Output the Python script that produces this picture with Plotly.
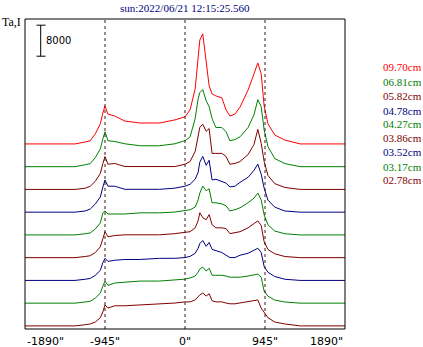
import plotly.graph_objects as go

# Position along the solar disk (arcsec)
X_ARCSEC = [-1890, -1300, -1180, -1120, -1060, -1000, -970, -945, -910, -830, -710, -530,
            -300, -120, 0, 60, 120, 155, 175, 210, 250, 285, 320, 365, 435, 485, 530,
            590, 650, 745, 815, 860, 900, 935, 980, 1060, 1180, 1360, 1890]

# Antenna temperature profiles (Ta) for each wavelength, bottom to top
TA_0278 = [0, 0, 300, 500, 1000, 2100, 3600, 5400, 4600, 5200, 5200, 5400, 5700, 5900, 6200, 6200,
           6700, 7500, 8000, 8500, 7700, 8300, 6500, 6200, 6200, 5900, 5700, 5700, 5900, 6200,
           6500, 6700, 4600, 3600, 2100, 1000, 500, 0, 0]
TA_0317 = [0, 0, 300, 500, 1300, 2600, 4400, 5700, 4600, 5200, 5400, 5700, 5700, 5900, 6200, 6500,
           7000, 8000, 8800, 9300, 8300, 9000, 7200, 7200, 7200, 7000, 6700, 6700, 6700, 7000,
           7200, 7500, 6700, 3100, 1800, 800, 300, 0, 0]
TA_0352 = [0, 0, 300, 500, 1300, 2600, 4600, 5700, 4900, 5200, 5400, 5400, 5700, 5700, 5900, 6200,
           7000, 8300, 9500, 10300, 8800, 9800, 8000, 7700, 7200, 6500, 5900, 5900, 6500, 7000,
           7700, 8300, 7200, 3600, 2100, 1000, 300, 0, 0]
TA_0386 = [0, 0, 300, 500, 1300, 2800, 4900, 6700, 5400, 5700, 5900, 5900, 5900, 6200, 6500, 6700,
           7700, 9500, 11600, 10300, 9800, 11100, 8500, 7700, 7700, 7500, 6200, 6500, 6700, 7700,
           8800, 9500, 8300, 4100, 2100, 1000, 300, 0, 0]
TA_0427 = [0, 0, 300, 500, 1500, 3100, 5700, 6200, 5400, 5400, 5400, 5700, 5700, 5900, 6200, 6500,
           7200, 9000, 10800, 12600, 11400, 11900, 8300, 8300, 8000, 7500, 6200, 6500, 7000, 8300,
           9500, 10800, 9000, 5200, 2600, 1000, 300, 0, 0]
TA_0478 = [0, 0, 300, 800, 2100, 3900, 6500, 8300, 6700, 6700, 5900, 5900, 5900, 6200, 6700, 7200,
           8500, 10300, 12900, 14400, 12100, 13400, 8300, 8500, 8000, 7500, 6500, 6700, 7700, 9000,
           10800, 12400, 9800, 6200, 3100, 1300, 300, 0, 0]
TA_0582 = [0, 0, 300, 800, 2100, 4100, 6700, 8500, 6500, 6700, 5900, 5900, 5900, 5900, 6500, 7200,
           9800, 14200, 16000, 16800, 15000, 15700, 9300, 9300, 9300, 8500, 6500, 6700, 7200, 9000,
           11600, 15500, 11900, 7200, 3600, 1500, 500, 0, 0]
TA_0681 = [0, 0, 500, 800, 2300, 4600, 7200, 9000, 6700, 6500, 5900, 5400, 5400, 5900, 6700, 7700,
           12400, 17500, 19100, 19900, 17000, 15500, 12400, 10100, 10100, 9000, 6700, 7000, 7700,
           10100, 13400, 17300, 15500, 9500, 5200, 2100, 800, 0, 0]
TA_0970 = [0, 0, 500, 800, 2600, 5200, 8000, 9800, 7700, 7200, 5900, 5400, 5400, 6200, 7000, 8800,
           14200, 22700, 26800, 28400, 21900, 15000, 12900, 12400, 11900, 8800, 7200, 7700, 9500,
           13900, 18100, 20900, 18100, 9800, 5200, 2300, 1000, 0, 0]

SERIES = [TA_0278, TA_0317, TA_0352, TA_0386, TA_0427, TA_0478, TA_0582, TA_0681, TA_0970]
LABELS = ["02.78cm", "03.17cm", "03.52cm", "03.86cm", "04.27cm", "04.78cm", "05.82cm", "06.81cm", "09.70cm"]
COLORS = ["#800000", "#008000", "#000080", "#800000", "#008000", "#000080", "#800000", "#008000", "#ff0000"]

OFFSET_BASE = 800
OFFSET_STEP = 5870
Y_RANGE = [0, 80000]
X_RANGE = [-1890, 1890]
LIMB_LINES = [-945, 0, 945]
TICK_VALUES = [-1890, -945, 0, 945, 1890]
TICK_TEXT = ['-1890"', '-945"', '0"', '945"', '1890"']
SCALE_VALUE = 8000
SCALE_TOP = 78400
TITLE = "sun:2022/06/21 12:15:25.560"

fig = go.Figure()
for i, (vals, lab, col) in enumerate(zip(SERIES, LABELS, COLORS)):
    off = OFFSET_BASE + i * OFFSET_STEP
    fig.add_trace(go.Scatter(x=X_ARCSEC, y=[v + off for v in vals], mode="lines",
                             line=dict(color=col, width=1), name=lab, showlegend=False,
                             hoverinfo="skip"))

shapes = []
for lx in LIMB_LINES:
    shapes.append(dict(type="line", xref="x", yref="paper", x0=lx, x1=lx, y0=0, y1=1,
                       line=dict(color="#401818", width=1, dash="3px,3px"), layer="above"))
# frame
shapes.append(dict(type="rect", xref="paper", yref="paper", x0=0, x1=1, y0=0, y1=1,
                   line=dict(color="black", width=1)))
# scale bar
bx = (40.7 - 25) / 320
cx0 = (36.5 - 25) / 320
cx1 = (45.5 - 25) / 320
ybot = SCALE_TOP - SCALE_VALUE
shapes.append(dict(type="line", xref="paper", yref="y", x0=bx, x1=bx, y0=ybot, y1=SCALE_TOP,
                   line=dict(color="black", width=1)))
for yy in (ybot, SCALE_TOP):
    shapes.append(dict(type="line", xref="paper", yref="y", x0=cx0, x1=cx1, y0=yy, y1=yy,
                       line=dict(color="black", width=1)))

annotations = []
for tv, tt in zip(TICK_VALUES, TICK_TEXT):
    anchor = "center"
    if tv == X_RANGE[0]:
        anchor = "left"
    elif tv == X_RANGE[1]:
        anchor = "right"
    annotations.append(dict(x=tv, y=0, xref="x", yref="paper", text=tt, showarrow=False,
                            xanchor=anchor, yanchor="middle", yshift=-12,
                            font=dict(family="DejaVu Sans", size=11, color="black")))
annotations.append(dict(x=0.5, y=1, xref="paper", yref="paper", text=TITLE, showarrow=False,
                        xanchor="center", yanchor="middle", yshift=11,
                        font=dict(family="Liberation Serif", size=11, color="#000080")))
annotations.append(dict(x=-25 / 320, y=1, xref="paper", yref="paper", text="Ta,I", showarrow=False,
                        xanchor="left", yanchor="middle", yshift=-3,
                        font=dict(family="Liberation Serif", size=12, color="black")))
annotations.append(dict(x=(44 - 25) / 320, y=(ybot + SCALE_TOP) / 2, xref="paper", yref="y",
                        text=str(SCALE_VALUE), showarrow=False, xanchor="left", yanchor="middle",
                        font=dict(family="DejaVu Sans", size=10, color="black")))
legend_y = [180, 167, 152, 138, 124, 111, 96, 82, 67]
for lab, col, py in zip(LABELS, COLORS, legend_y):
    annotations.append(dict(x=(381 - 25) / 320, y=(329 - py) / 310, xref="paper", yref="paper",
                            text=lab, showarrow=False, xanchor="left", yanchor="middle",
                            font=dict(family="Liberation Serif", size=11, color=col)))

fig.update_layout(width=423, height=347, margin=dict(l=25, r=78, t=19, b=18),
                  paper_bgcolor="white", plot_bgcolor="white",
                  shapes=shapes, annotations=annotations, showlegend=False)
fig.update_xaxes(range=X_RANGE, showgrid=False, zeroline=False, showticklabels=False,
                 ticks="", showline=False)
fig.update_yaxes(range=Y_RANGE, showgrid=False, zeroline=False, showticklabels=False,
                 ticks="", showline=False)
fig.write_html("out.html", config={"displayModeBar": False})
